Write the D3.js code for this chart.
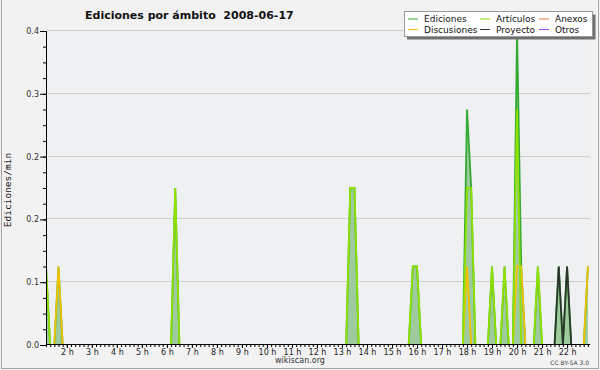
<!DOCTYPE html>
<html>
<head>
<meta charset="utf-8">
<script src="https://cdn.jsdelivr.net/npm/d3@7"></script>
<style>
html,body{margin:0;padding:0;background:#f2f2f2;}
svg{display:block;font-family:"DejaVu Sans",sans-serif;}
</style>
</head>
<body>
<div id="chart"></div>
<script>
// 10 minute bins with at least one edit, every other bin of the day is 0
const binTimes    = ["01:10","01:40","06:20","13:20","13:30","15:50","16:00","18:00","18:10","19:00","19:30","20:00","20:10","20:50","21:40","22:00","22:50"]
const ediciones   = [0.1, 0.1, 0.2, 0.2, 0.2, 0.1, 0.1, 0.3, 0.2, 0.1, 0.1, 0.4, 0.1, 0.1, 0.1, 0.1, 0.1]
const discusiones = [0,   0.1, 0,   0,   0,   0,   0,   0.1, 0,   0,   0,   0.1, 0.1, 0,   0,   0,   0.1]
const articulos   = [0.1, 0,   0.2, 0.2, 0.2, 0.1, 0.1, 0.2, 0.2, 0.1, 0.1, 0.3, 0,   0.1, 0,   0,   0]
const proyecto    = [0,   0,   0,   0,   0,   0,   0,   0,   0,   0,   0,   0,   0,   0,   0.1, 0.1, 0]
const anexos      = [0,   0,   0,   0,   0,   0,   0,   0,   0,   0,   0,   0,   0,   0,   0,   0,   0]
const otros       = [0,   0,   0,   0,   0,   0,   0,   0,   0,   0,   0,   0,   0,   0,   0,   0,   0]
const firstBin = "01:10", lastBin = "22:50", axisEnd = "22:55"
const hourTicks = [2,3,4,5,6,7,8,9,10,11,12,13,14,15,16,17,18,19,20,21,22]
const yTicks = [0, 0.08, 0.16, 0.24, 0.32, 0.4]

const toMin = s => { let p = s.split(":"); return +p[0]*60 + +p[1] }

// expand to the full 10 min grid
const grid = d3.range(toMin(firstBin), toMin(lastBin)+1, 10)
const expand = vals => grid.map(t => {
  let i = binTimes.findIndex(b => toMin(b) == t)
  return {t: t, v: i < 0 ? 0 : vals[i]}
})

const W = 600, H = 370
const svg = d3.select("#chart").append("svg").attr("width",W).attr("height",H)

svg.append("rect").attr("x",0).attr("y",0).attr("width",W).attr("height",H).attr("fill","#f2f2f2")
svg.append("rect").attr("x",1.5).attr("y",-1).attr("width",597).attr("height",369.5)
  .attr("fill","none").attr("stroke","#a6a6a6")

const x = d3.scaleLinear().domain([toMin(firstBin), toMin(axisEnd)]).range([46, 590])
const y = d3.scaleLinear().domain([0, 0.4]).range([345, 31])

// plot background + grid
svg.append("rect").attr("x",46).attr("y",31).attr("width",544).attr("height",313).attr("fill","#eef0f1")
svg.append("g").selectAll("line").data(yTicks.slice(1)).enter().append("line")
  .attr("x1",47).attr("x2",590)
  .attr("y1",d=>Math.round(y(d))-0.5).attr("y2",d=>Math.round(y(d))-0.5)
  .attr("stroke","#cfcfcf")

svg.append("defs").append("clipPath").attr("id","plot")
  .append("rect").attr("x",46).attr("y",20).attr("width",546).attr("height",324)

const plot = svg.append("g").attr("clip-path","url(#plot)")

const area = d3.area().x(d=>x(d.t)).y0(y(0)).y1(d=>y(d.v))
const line = d3.line().x(d=>x(d.t)).y(d=>y(d.v))

plot.append("path").datum(expand(ediciones)).attr("d",area).attr("fill","#9ecb9e")

const series = [
  {vals: ediciones, color:"#33aa33"},
  {vals: anexos, color:"#ee7744"},
  {vals: otros, color:"#9944ee"},
  {vals: discusiones, color:"#f2c200"},
  {vals: articulos, color:"#90e000"},
  {vals: proyecto, color:"#2b352b"}
]
series.forEach(s => {
  plot.append("path").datum(expand(s.vals)).attr("d",line)
    .attr("fill","none").attr("stroke",s.color).attr("stroke-width",1.8)
})

// axes
const xAxis = d3.axisBottom(x).tickValues(hourTicks.map(h=>h*60)).tickSize(4).tickSizeOuter(0)
  .tickFormat(d => (d/60) + " h")
const xMinor = d3.axisBottom(x).tickValues(grid).tickSize(3).tickSizeOuter(0).tickFormat("")
const gxm = svg.append("g").attr("transform","translate(0,344)").call(xMinor)
const gx = svg.append("g").attr("transform","translate(0,344)").call(xAxis)
gxm.select(".domain").attr("d","M46,0.5H590")
gx.select(".domain").attr("d","M46,0.5H590")
gx.selectAll("text").attr("font-size",8).attr("font-family","DejaVu Sans").attr("fill","#222").attr("dy","0.55em")

const yAxis = d3.axisLeft(y).tickValues(yTicks).tickSize(6).tickSizeOuter(0).tickFormat(d3.format(".1f"))
const yMinor = d3.axisLeft(y).tickValues(d3.range(0, 0.41, 0.02)).tickSize(3).tickSizeOuter(0).tickFormat("")
const gym = svg.append("g").attr("transform","translate(46,0)").call(yMinor)
const gy = svg.append("g").attr("transform","translate(46,0)").call(yAxis)
gym.select(".domain").attr("d","M0.5,31V344")
gy.select(".domain").attr("d","M0.5,31V345")
gy.selectAll("text").attr("font-size",8).attr("font-family","DejaVu Sans").attr("fill","#333").attr("x",-7)

// texts
svg.append("text").attr("x",85).attr("y",18.5).attr("font-size",11).attr("font-weight","bold")
  .attr("fill","#111").attr("xml:space","preserve").style("white-space","pre")
  .text("Ediciones por ámbito  2008-06-17")
svg.append("text").attr("transform","translate(11,190) rotate(-90)").attr("text-anchor","middle")
  .attr("font-family","DejaVu Sans Mono").attr("font-size",9.5).attr("fill","#111").text("Ediciones/min")
svg.append("text").attr("x",300).attr("y",363).attr("text-anchor","middle").attr("font-size",8)
  .attr("fill","#333").text("wikiscan.org")
svg.append("text").attr("x",589).attr("y",365).attr("text-anchor","end").attr("font-size",6)
  .attr("fill","#444").text("CC BY-SA 3.0")

// legend
const legendNames  = ["Ediciones","Artículos","Anexos","Discusiones","Proyecto","Otros"]
const legendColors = ["#33aa33","#90e000","#ee7744","#f2c200","#2b352b","#9944ee"]
const lg = svg.append("g")
lg.append("rect").attr("x",407).attr("y",14.5).attr("width",188.5).attr("height",25).attr("fill","#707070")
lg.append("rect").attr("x",404.5).attr("y",11.5).attr("width",188).attr("height",25).attr("fill","#fff").attr("stroke","#999")
const colX = [408, 480, 539], rowY = [19, 29.5]
legendNames.forEach((n,i) => {
  let cx = colX[i%3], cy = rowY[Math.floor(i/3)]
  lg.append("line").attr("x1",cx).attr("x2",cx+10).attr("y1",cy).attr("y2",cy)
    .attr("stroke",legendColors[i]).attr("stroke-width",1)
  lg.append("text").attr("x",cx+16).attr("y",cy).attr("dy","0.35em").attr("font-size",9)
    .attr("fill","#111").text(n)
})
</script>
</body>
</html>
